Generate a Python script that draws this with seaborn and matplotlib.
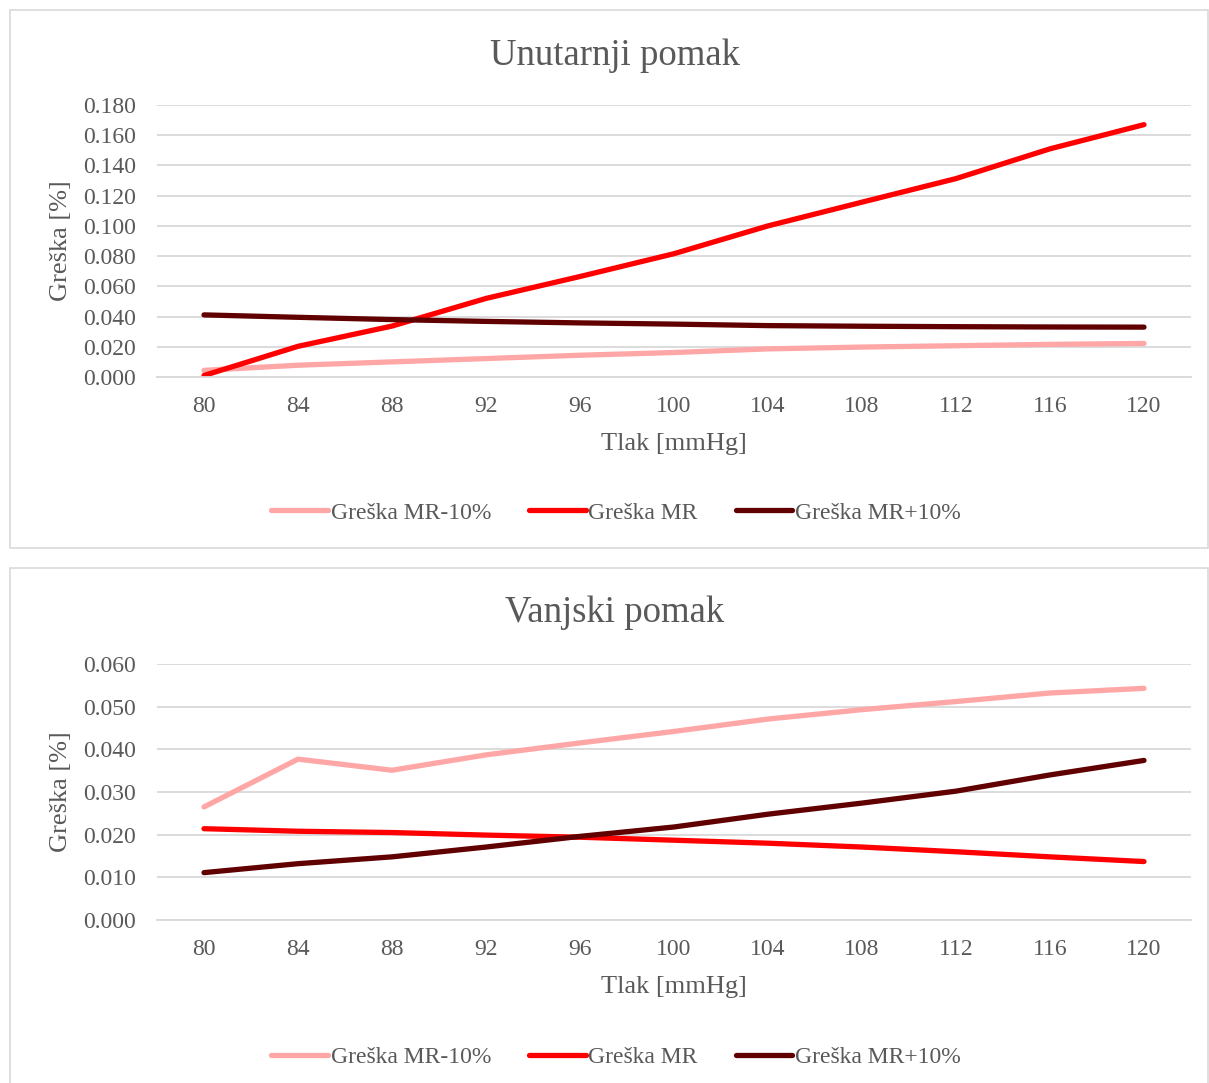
import matplotlib.pyplot as plt
import matplotlib.patches as patches
import pandas as pd
import seaborn as sns

# pressure values (x axis)
tlak = [80, 84, 88, 92, 96, 100, 104, 108, 112, 116, 120]

# Unutarnji pomak
unut_minus = [0.0044, 0.0078, 0.0100, 0.0122, 0.0144, 0.0162, 0.0186, 0.0198, 0.0207, 0.0216, 0.0222]
unut_mr = [0.0010, 0.0203, 0.0337, 0.0520, 0.0665, 0.0816, 0.1000, 0.1157, 0.1313, 0.1510, 0.1670]
unut_plus = [0.0411, 0.0395, 0.0380, 0.0368, 0.0358, 0.0350, 0.0340, 0.0336, 0.0333, 0.0331, 0.0330]

# Vanjski pomak
vanj_minus = [0.0265, 0.0377, 0.0351, 0.0387, 0.0415, 0.0442, 0.0471, 0.0493, 0.0512, 0.0532, 0.0543]
vanj_mr = [0.0214, 0.0208, 0.0205, 0.0199, 0.0194, 0.0187, 0.0180, 0.0171, 0.0160, 0.0148, 0.0137]
vanj_plus = [0.0111, 0.0132, 0.0148, 0.0171, 0.0196, 0.0218, 0.0248, 0.0274, 0.0302, 0.0340, 0.0374]

series_names = ["Greška MR-10%", "Greška MR", "Greška MR+10%"]
colors = {"Greška MR-10%": "#FFA6A6", "Greška MR": "#FF0000", "Greška MR+10%": "#600000"}

sns.set_style("white")
plt.rcParams["font.family"] = ["Liberation Serif", "DejaVu Serif"]

text_col = "#595959"
grid_col = "#D9D9D9"


def make_df(minus, mr, plus):
    rows = []
    for name, vals in zip(series_names, [minus, mr, plus]):
        for t, v in zip(tlak, vals):
            rows.append({"Tlak": t, "Greska": v, "serija": name})
    return pd.DataFrame(rows)


fig = plt.figure(figsize=(12.09, 10.83), dpi=100)
W, H = 1209, 1083

# chart frames
fig.patches.append(patches.Rectangle((10 / W, 1 - 548 / H), 1198 / W, 538 / H,
                                     transform=fig.transFigure, fill=False,
                                     edgecolor=grid_col, linewidth=1.2))
fig.patches.append(patches.Rectangle((10 / W, 1 - 1100 / H), 1198 / W, 532 / H,
                                     transform=fig.transFigure, fill=False,
                                     edgecolor=grid_col, linewidth=1.2))

charts = [
    ("Unutarnji pomak", make_df(unut_minus, unut_mr, unut_plus), 105, 377, 0.180, 0.020, 56, 513),
    ("Vanjski pomak", make_df(vanj_minus, vanj_mr, vanj_plus), 664, 920, 0.060, 0.010, 613, 1057),
]

for title, df, top_px, bot_px, ymax, ystep, title_y, leg_y in charts:
    ax = fig.add_axes([157 / W, 1 - bot_px / H, (1191 - 157) / W, (bot_px - top_px) / H])
    sns.lineplot(data=df, x="Tlak", y="Greska", hue="serija", palette=colors,
                 linewidth=3.8, ax=ax, legend=True)
    for ln in ax.lines:
        ln.set_solid_capstyle("round")

    ax.set_xlim(78, 122)
    ax.set_ylim(0, ymax)
    nt = int(round(ymax / ystep))
    ax.set_yticks([i * ystep for i in range(nt + 1)])
    ax.set_yticklabels([f"{i * ystep:.3f}" for i in range(nt + 1)])
    ax.set_xticks(tlak)
    ax.set_xticks([t - 2 for t in tlak] + [122], minor=True)
    ax.yaxis.grid(True, color=grid_col, linewidth=1.3)
    ax.set_axisbelow(True)

    for s in ["top", "right", "left"]:
        ax.spines[s].set_visible(False)
    ax.spines["bottom"].set_color(grid_col)
    ax.spines["bottom"].set_linewidth(1.3)

    ax.tick_params(axis="y", length=0, pad=15, labelsize=17, labelcolor=text_col)
    ax.tick_params(axis="x", which="major", length=0, pad=14, labelsize=17, labelcolor=text_col)
    ax.tick_params(axis="x", which="minor", length=5, width=1.3, color=grid_col)

    ax.set_xlabel("Tlak [mmHg]", fontsize=19, color=text_col, labelpad=11)
    ax.set_ylabel("Greška [%]", fontsize=19, color=text_col, labelpad=8)

    fig.text(615 / W, 1 - title_y / H, title, fontsize=26.5, color=text_col,
             ha="center", va="center")

    handles, labels = ax.get_legend_handles_labels()
    ax.legend(handles, labels, loc="center", bbox_to_anchor=(616 / W, 1 - leg_y / H),
              bbox_transform=fig.transFigure, ncol=3, frameon=False, fontsize=17,
              labelcolor=text_col, handlelength=2.4, handletextpad=0.12,
              columnspacing=1.6)

plt.savefig("out.png", dpi=100)
